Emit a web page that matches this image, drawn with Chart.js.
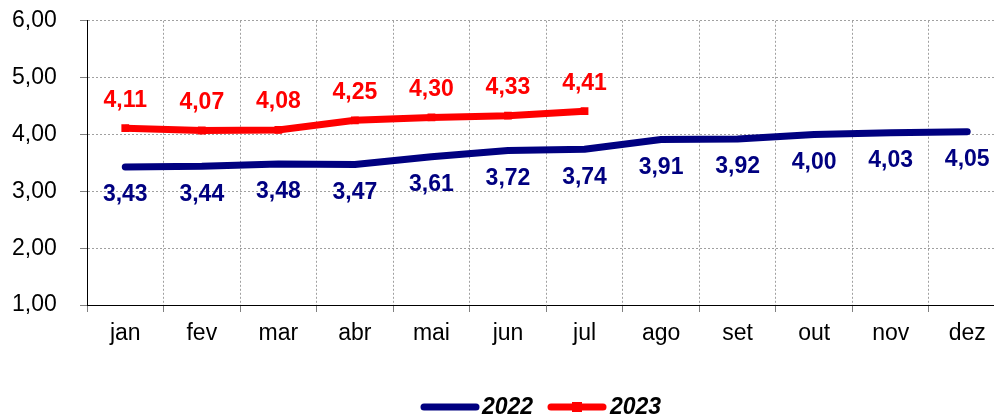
<!DOCTYPE html>
<html><head><meta charset="utf-8">
<script src="https://cdn.jsdelivr.net/npm/chart.js@4.4.1/dist/chart.umd.min.js"></script>
<style>html,body{margin:0;padding:0;overflow:hidden;background:#fff}#wrap{width:1011px;height:419px}</style>
</head><body><div id="wrap"><canvas id="c" width="1011" height="419"></canvas></div>
<script>
const categories = ['jan','fev','mar','abr','mai','jun','jul','ago','set','out','nov','dez'];
const values2022 = [3.43,3.44,3.48,3.47,3.61,3.72,3.74,3.91,3.92,4.00,4.03,4.05];
const values2023 = [4.11,4.07,4.08,4.25,4.30,4.33,4.41];
const seriesNames = ['2022','2023'];
const yTicks = [1,2,3,4,5,6];

const FONT = "'Liberation Sans', Arial, sans-serif";
const fmt = v => v.toFixed(2).replace('.', ',');

const labelPlugin = {
  id: 'valueLabels',
  afterDatasetsDraw(chart) {
    const ctx = chart.ctx;
    ctx.save();
    ctx.font = "bold 23px " + FONT;
    ctx.textAlign = 'center';
    ctx.textBaseline = 'middle';
    chart.data.datasets.forEach((ds, i) => {
      const meta = chart.getDatasetMeta(i);
      ctx.fillStyle = ds.borderColor;
      meta.data.forEach((pt, j) => {
        const off = i === 0 ? 28 : -28;
        ctx.fillText(fmt(ds.data[j]), pt.x, pt.y + off);
      });
    });
    ctx.restore();
  }
};

const legendPlugin = {
  id: 'customLegend',
  afterDraw(chart) {
    const ctx = chart.ctx;
    const y = 407;
    ctx.save();
    ctx.lineCap = 'round';
    ctx.lineWidth = 7;
    ctx.strokeStyle = '#000080';
    ctx.beginPath(); ctx.moveTo(424, y); ctx.lineTo(476, y); ctx.stroke();
    ctx.strokeStyle = '#FF0000';
    ctx.beginPath(); ctx.moveTo(551, y); ctx.lineTo(603, y); ctx.stroke();
    ctx.fillStyle = '#FF0000';
    ctx.fillRect(572, y - 5, 10, 10);
    ctx.fillStyle = '#000';
    ctx.font = "italic bold 23px " + FONT;
    ctx.textAlign = 'left';
    ctx.textBaseline = 'middle';
    ctx.fillText(seriesNames[0], 482, y + 1);
    ctx.fillText(seriesNames[1], 610, y + 1);
    ctx.restore();
  }
};

new Chart(document.getElementById('c'), {
  type: 'line',
  data: {
    labels: categories,
    datasets: [
      { label: seriesNames[0], data: values2022, borderColor: '#000080', backgroundColor: '#000080',
        borderWidth: 7, pointRadius: 0, borderCapStyle: 'round', borderJoinStyle: 'round', tension: 0 },
      { label: seriesNames[1], data: values2023, borderColor: '#FF0000', backgroundColor: '#FF0000',
        borderWidth: 7, pointStyle: 'rect', pointRadius: 5.5, pointBorderWidth: 0, tension: 0 }
    ]
  },
  options: {
    responsive: false,
    animation: false,
    layout: { padding: { top: 1, right: 2, left: 12, bottom: 0 } },
    plugins: { legend: { display: false }, tooltip: { enabled: false } },
    scales: {
      x: {
        offset: true,
        grid: { offset: true, color: '#a0a0a0', tickColor: '#808080', tickLength: 7, tickBorderDash: [] },
        border: { display: true, color: '#000', width: 1, dash: [2,2] },
        ticks: { color: '#000', font: { family: FONT, size: 23 }, padding: 8, maxRotation: 0, autoSkip: false },
        afterFit(s) { s.height = 114; }
      },
      y: {
        min: 1, max: 6,
        afterBuildTicks(s) { s.ticks = yTicks.map(v => ({ value: v })); },
        grid: { color: '#a0a0a0', tickColor: '#808080', tickLength: 7, tickBorderDash: [] },
        border: { display: true, color: '#000', width: 1, dash: [2,2] },
        ticks: { color: '#000', font: { family: FONT, size: 23 }, padding: 7, crossAlign: 'far', callback: v => fmt(v) },
        afterFit(s) { s.width = 75; }
      }
    }
  },
  plugins: [labelPlugin, legendPlugin]
});
</script>
</body></html>
